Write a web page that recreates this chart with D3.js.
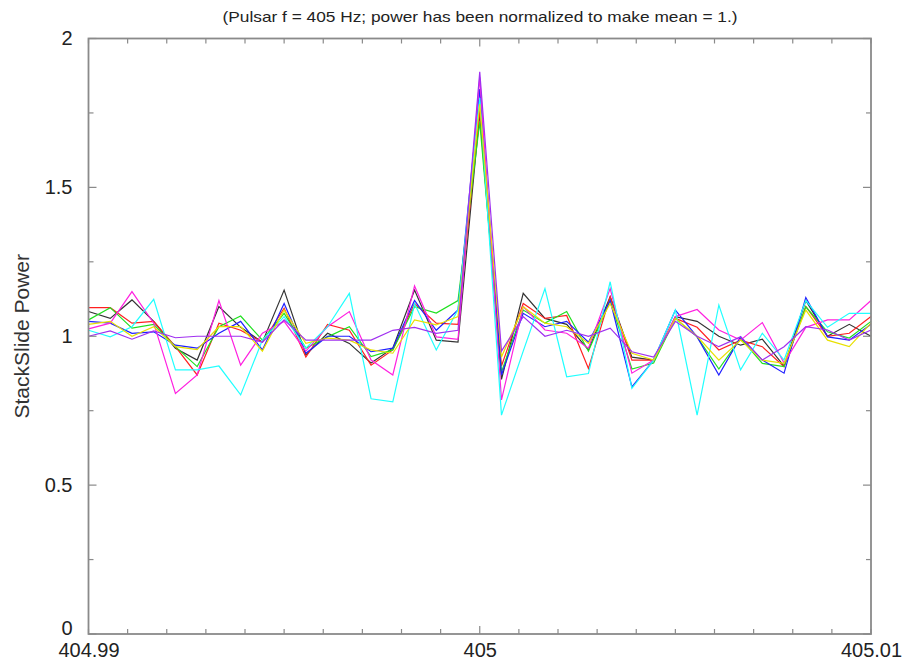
<!DOCTYPE html>
<html>
<head>
<meta charset="utf-8">
<script src="https://cdn.jsdelivr.net/npm/d3@7"></script>
<style>
  html, body { margin: 0; padding: 0; background: #fff; }
  svg { display: block; font-family: "Liberation Sans", Arial, Helvetica, sans-serif; }
</style>
</head>
<body>
<svg id="chart" width="903" height="665"></svg>
<script>
// Frequency bins: 37 bins of 1/1800 Hz spanning 404.99 .. 405.01 Hz
const binCount = 37;
const fStart = 404.99;
const binWidth = 1 / 1800;

// StackSlide power per bin, one array per run
const powerBlack  = [1.083,1.06,1.122,1.05,0.96,0.92,1.10,1.03,0.98,1.155,0.937,1.01,0.976,0.91,0.96,1.155,0.987,0.98,1.75,0.855,1.144,1.06,1.04,0.954,1.133,0.93,0.92,1.066,1.05,1.0,0.97,0.99,0.90,1.12,1.0,1.04,1.0];
const powerRed    = [1.096,1.096,1.044,1.05,0.965,0.87,1.044,1.02,0.98,1.094,0.93,1.04,1.02,0.903,0.954,1.11,1.044,1.04,1.76,0.90,1.11,1.06,1.07,0.892,1.133,0.92,0.92,1.06,1.03,0.954,0.987,0.965,0.898,1.10,1.0,1.01,1.066];
const powerGreen  = [1.055,1.096,1.027,1.04,0.965,0.898,1.032,1.068,0.987,1.077,0.96,0.998,1.032,0.932,0.954,1.099,1.078,1.12,1.72,0.88,1.088,1.044,1.083,0.95,1.12,0.89,0.91,1.06,0.998,0.89,0.994,0.909,0.898,1.099,1.015,0.994,1.05];
const powerBlue   = [1.05,1.044,1.01,1.015,0.97,0.96,1.01,1.05,0.954,1.11,0.943,1.0,1.0,0.948,0.96,1.12,1.02,1.088,1.83,0.87,1.077,1.032,1.05,0.98,1.12,0.83,0.92,1.088,0.998,0.87,0.998,0.92,0.876,1.13,0.998,0.987,1.04];
const powerMagenta= [1.025,1.044,1.15,1.044,0.808,0.87,1.12,0.903,1.01,1.05,0.95,1.032,1.083,0.92,0.87,1.169,0.998,0.99,1.87,0.786,1.10,1.021,1.01,0.96,1.16,0.876,0.92,1.066,1.09,1.021,0.987,1.046,0.91,1.03,1.055,1.055,1.12];
const powerCyan   = [1.02,0.998,1.032,1.124,0.887,0.887,0.90,0.803,0.987,1.066,0.96,1.032,1.144,0.79,0.78,1.11,0.954,1.09,1.80,0.735,0.95,1.16,0.864,0.875,1.183,0.825,0.92,1.088,0.735,1.105,0.887,1.01,0.92,1.12,1.03,1.077,1.077];
const powerYellow = [1.04,1.05,1.0,1.032,0.965,0.955,1.032,1.032,0.95,1.088,0.976,0.994,0.987,0.954,0.943,1.055,1.038,1.066,1.78,0.93,1.099,1.044,1.032,0.976,1.11,0.943,0.92,1.06,1.0,0.92,0.987,0.92,0.909,1.088,0.987,0.965,1.044];
const powerPurple = [1.0,1.018,0.99,1.018,0.995,1.0,1.0,1.0,0.98,1.055,0.987,0.987,0.987,0.987,1.02,1.03,1.01,1.02,1.888,0.95,1.066,1.0,1.02,1.0,1.027,0.948,0.93,1.05,1.0,0.965,0.998,0.92,0.965,1.032,1.021,0.987,1.021];

const runs = [
  { values: powerBlack,   color: "#333333" },
  { values: powerRed,     color: "#ff2020" },
  { values: powerGreen,   color: "#20e020" },
  { values: powerBlue,    color: "#2020ff" },
  { values: powerMagenta, color: "#ff20e0" },
  { values: powerCyan,    color: "#20ffff" },
  { values: powerYellow,  color: "#e8e000" },
  { values: powerPurple,  color: "#a030f0" }
];

const xTickLabels = ["404.99", "405", "405.01"];
const yTickLabels = ["0", "0.5", "1", "1.5", "2"];
const titleText = "(Pulsar f = 405 Hz; power has been normalized to make mean = 1.)";
const yAxisTitle = "StackSlide Power";

const margin = { left: 88.5, right: 32, top: 38.5, bottom: 31 };
const W = 903, H = 665;
const svg = d3.select("#chart");

const x = d3.scaleLinear().domain([404.99, 405.01]).range([margin.left, W - margin.right]);
const y = d3.scaleLinear().domain([0, 2]).range([H - margin.bottom, margin.top]);

const frameColor = "#8a8a8a";

// series lines
const line = d3.line()
  .x((d, i) => x(fStart + i * binWidth))
  .y(d => y(d));

const plot = svg.append("g");
runs.forEach(r => {
  plot.append("path")
    .datum(r.values)
    .attr("fill", "none")
    .attr("stroke", r.color)
    .attr("stroke-width", 1.2)
    .attr("stroke-linejoin", "miter")
    .attr("d", line);
});

// inward ticks on all four sides
const xMinor = d3.range(0, 21).map(k => 404.99 + k * 0.001);
const yMinor = d3.range(0, 9).map(k => k * 0.25);
const isMajorX = v => Math.abs(v - 405) < 1e-7;
const isMajorY = v => Math.abs(v * 2 - Math.round(v * 2)) < 1e-7;

const ticks = svg.append("g").attr("stroke", frameColor).attr("stroke-width", 1.2);
xMinor.forEach(v => {
  const len = isMajorX(v) ? 8 : 5;
  const px = x(v);
  ticks.append("line").attr("x1", px).attr("x2", px).attr("y1", y(0)).attr("y2", y(0) - len);
  ticks.append("line").attr("x1", px).attr("x2", px).attr("y1", y(2)).attr("y2", y(2) + len);
});
yMinor.forEach(v => {
  const len = isMajorY(v) ? 8 : 5;
  const py = y(v);
  ticks.append("line").attr("x1", x(404.99)).attr("x2", x(404.99) + len).attr("y1", py).attr("y2", py);
  ticks.append("line").attr("x1", x(405.01)).attr("x2", x(405.01) - len).attr("y1", py).attr("y2", py);
});

// frame
svg.append("rect")
  .attr("x", x(404.99)).attr("y", y(2))
  .attr("width", x(405.01) - x(404.99)).attr("height", y(0) - y(2))
  .attr("fill", "none").attr("stroke", frameColor).attr("stroke-width", 1.8);

// tick labels
const xAxis = d3.axisBottom(x)
  .tickValues(xTickLabels.map(Number))
  .tickFormat((d, i) => xTickLabels[i])
  .tickSize(0).tickPadding(9);
svg.append("g").attr("transform", `translate(0,${y(0)})`).call(xAxis)
  .call(g => g.select(".domain").remove())
  .selectAll("text").attr("font-size", 20).attr("fill", "#222")
  .attr("font-family", "Liberation Sans, Arial, sans-serif");

const yAxis = d3.axisLeft(y)
  .tickValues(yTickLabels.map(Number))
  .tickFormat((d, i) => yTickLabels[i])
  .tickSize(0).tickPadding(16);
svg.append("g").attr("transform", `translate(${x(404.99)},0)`).call(yAxis)
  .call(g => g.select(".domain").remove())
  .selectAll("text").attr("font-size", 20).attr("fill", "#222")
  .attr("font-family", "Liberation Sans, Arial, sans-serif")
  .attr("dy", (d) => d === 0 ? "0.02em" : "0.32em");

// title and axis title
svg.append("text")
  .attr("x", 480).attr("y", 22)
  .attr("text-anchor", "middle")
  .attr("font-size", 15).attr("fill", "#222")
  .attr("textLength", 515).attr("lengthAdjust", "spacingAndGlyphs")
  .text(titleText);

svg.append("text")
  .attr("transform", `translate(29,${(y(0) + y(2)) / 2}) rotate(-90)`)
  .attr("text-anchor", "middle")
  .attr("font-size", 21).attr("fill", "#333")
  .text(yAxisTitle);
</script>
</body>
</html>
